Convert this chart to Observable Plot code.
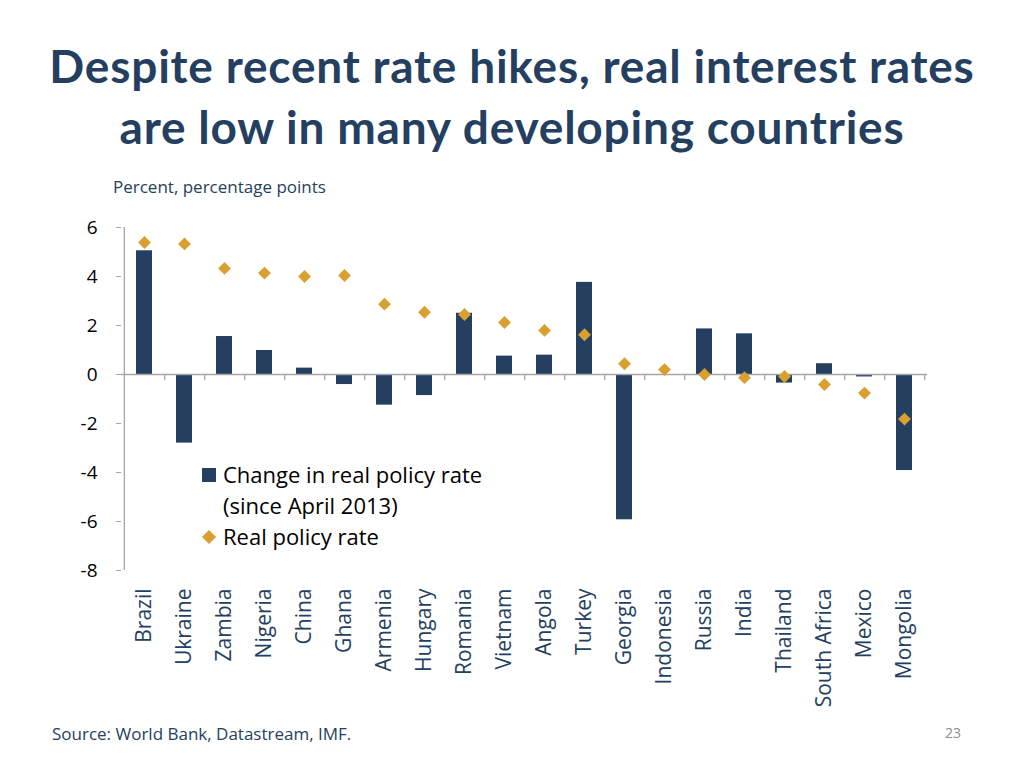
<!DOCTYPE html>
<html>
<head>
<meta charset="utf-8">
<script src="https://cdn.jsdelivr.net/npm/d3@7"></script>
<script src="https://cdn.jsdelivr.net/npm/@observablehq/plot@0.6"></script>
<style>
  html, body { margin: 0; padding: 0; background: #fff; }
  #page { position: relative; width: 1024px; height: 768px; overflow: hidden; font-family: "Open Sans", sans-serif; }
  .title { position: absolute; left: 0; width: 1024px; text-align: center; font-family: Lato, sans-serif; font-weight: 700; color: #243F60; font-size: 46px; letter-spacing: 0.8px; line-height: 58px; }
  .sub { position: absolute; left: 113px; top: 175px; font-size: 17px; color: #243F60; }
  .src { position: absolute; left: 52px; top: 722px; font-size: 17px; color: #243F60; }
  .pg { position: absolute; left: 945px; top: 723px; font-size: 14px; color: #8c8c8c; }
  #chart { position: absolute; left: 0; top: 200px; }
  .leg { position: absolute; left: 202px; top: 459px; font-size: 22px; color: #000; line-height: 31px; }
  .leg .row { position: relative; padding-left: 21px; }
  .sw { position: absolute; left: 0; top: 9px; width: 14px; height: 14px; background: #243F60; }
  .dm { position: absolute; left: 2px; top: 11px; width: 10px; height: 10px; background: #D9A030; transform: rotate(45deg); }
</style>
</head>
<body>
<div id="page">
  <div class="title" style="top:37px;">Despite recent rate hikes, real interest rates</div>
  <div class="title" style="top:98px;">are low in many developing countries</div>
  <div class="sub">Percent, percentage points</div>
  <div id="chart"></div>
  <div class="leg">
    <div class="row"><span class="sw"></span>Change in real policy rate</div>
    <div class="row">(since April 2013)</div>
    <div class="row"><span class="dm"></span>Real policy rate</div>
  </div>
  <div class="src">Source: World Bank, Datastream, IMF.</div>
  <div class="pg">23</div>
</div>
<script>
const countries = ["Brazil","Ukraine","Zambia","Nigeria","China","Ghana","Armenia","Hungary","Romania","Vietnam","Angola","Turkey","Georgia","Indonesia","Russia","India","Thailand","South Africa","Mexico","Mongolia"];
const changeInRate = [5.05,-2.8,1.55,0.98,0.26,-0.41,-1.25,-0.86,2.5,0.75,0.79,3.76,-5.93,0,1.86,1.66,-0.35,0.44,-0.1,-3.92];
const realRate = [5.39,5.33,4.33,4.14,4.0,4.04,2.87,2.54,2.45,2.12,1.8,1.62,0.44,0.2,0.0,-0.13,-0.08,-0.41,-0.76,-1.82];
const yTicks = [-8,-6,-4,-2,0,2,4,6];

const data = countries.map((c, i) => ({country: c, change: changeInRate[i], rate: realRate[i]}));
const step = (1024 - 121 - 97) / countries.length;

const plot = Plot.plot({
  width: 1024,
  height: 520,
  marginLeft: 121,
  marginRight: 97,
  marginTop: 27,
  marginBottom: 150,
  style: {fontFamily: "'Open Sans', sans-serif", background: "transparent"},
  x: {domain: countries, paddingInner: 0.6, paddingOuter: 0.3, label: null},
  y: {domain: [-8, 6], label: null},
  marks: [
    Plot.barY(data, {x: "country", y: "change", fill: "#243F60"}),
    Plot.ruleY([0], {stroke: "#a6a6a6", strokeWidth: 1.3}),
    Plot.ruleX(countries, {x: d => d, dx: step / 2, y1: 0, y2: -0.25, stroke: "#a6a6a6", strokeWidth: 1.3}),
    Plot.ruleX([countries[0]], {x: d => d, dx: -step / 2, y1: -8, y2: 6, stroke: "#a6a6a6", strokeWidth: 1.3}),
    Plot.dot(data, {x: "country", y: "rate", symbol: "diamond2", r: 5.8, fill: "#D9A030", stroke: "none"}),
    Plot.axisY({ticks: yTicks, tickSize: 5, tickPadding: 19, stroke: "#a6a6a6", fill: "#000", fontSize: 19, tickFormat: d => d < 0 ? "-" + Math.abs(d) : String(d)}),
    Plot.axisX({tickSize: 0, tickPadding: 18, tickRotate: -90, fontSize: 21, fill: "#243F60", label: null})
  ]
});
document.getElementById("chart").appendChild(plot);
</script>
</body>
</html>
